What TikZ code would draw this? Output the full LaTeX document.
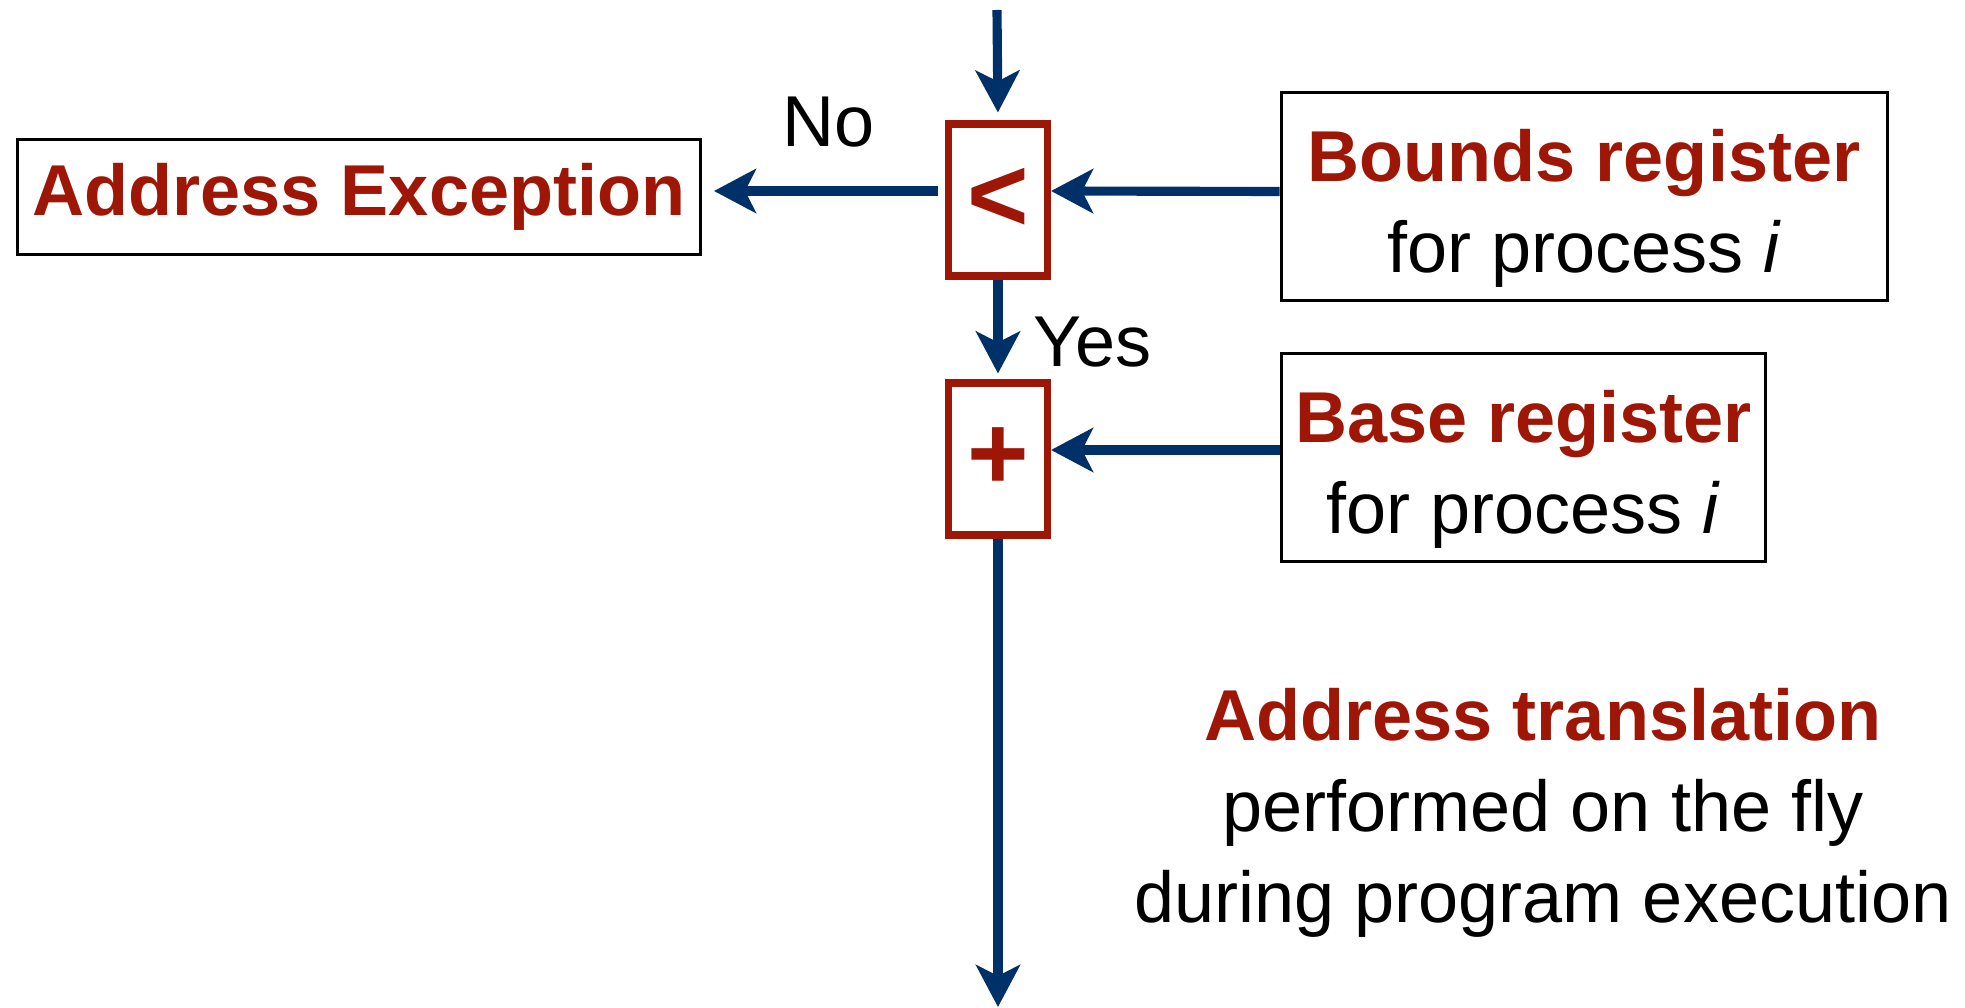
\documentclass[tikz,border=0pt]{standalone}
\usepackage{fontspec}
\setmainfont{Liberation Sans}
\usetikzlibrary{arrows.meta}

\definecolor{opred}{RGB}{158,22,6}
\definecolor{flowblue}{RGB}{0,48,104}

\tikzset{
    regbox/.style={draw=black, line width=0.85pt, align=center, inner sep=0pt, minimum height=2.08cm},
    opbox/.style={draw=opred, line width=2pt, text=opred, inner sep=0pt,
        minimum width=0.99cm, minimum height=1.52cm, font=\bfseries\fontsize{30pt}{30pt}\selectfont},
    flow/.style={draw=flowblue, line width=2.6pt, -{Stealth[length=0.42cm,width=0.44cm,inset=0.11cm]}},
}
\newcommand{\hl}[1]{\textbf{\textcolor{opred}{#1}}}
\newcommand{\lowstrut}{\rule{0pt}{0.76cm}}

\begin{document}
\begin{tikzpicture}[font=\fontsize{20.5pt}{25.9pt}\selectfont]
    \useasboundingbox (0,0) rectangle (19.65,10.07);

    \node[opbox] (cmp) at (9.98,8.07) {<};
    \node[opbox] (add) at (9.98,5.48) {+};

    \node[draw=black, line width=0.85pt, inner sep=0pt, minimum width=6.83cm, minimum height=1.15cm] (exc) at (3.59,8.10) {\hl{Address Exception}};
    \node[regbox, minimum width=6.06cm] (bounds) at (15.84,8.105) {\lowstrut\hl{Bounds register}\\ for process \textit{i}};
    \node[regbox, minimum width=4.84cm] (base) at (15.235,5.495) {\lowstrut\hl{Base register}\\ for process \textit{i}};

    \node[anchor=base] (no) at (8.285,8.60) {No};
    \node[anchor=base west, inner sep=0pt] (yes) at (10.33,6.40) {Yes};
    \node[anchor=north, align=center, inner sep=0pt] (note) at (15.43,3.19) {\hl{Address translation}\\ performed on the fly\\ during program execution};

    \coordinate (in) at (9.97,9.97);
    \coordinate (out) at (9.98,0);

    \draw[flow, shorten >=0.08cm] (in) -- (cmp.north);
    \draw[flow, shorten <=0.07cm, shorten >=0.12cm] ([yshift=0.9mm]cmp.west) -- ([yshift=0.9mm]cmp.west -| exc.east);
    \draw[flow] ([yshift=0.5mm]bounds.west) -- ([yshift=0.9mm]cmp.east);
    \draw[flow, shorten >=0.06cm] (cmp.south) -- (add.north);
    \draw[flow] ([yshift=0.75mm]base.west) -- ([yshift=0.9mm]add.east);
    \draw[flow] (add.south) -- (out);
\end{tikzpicture}
\end{document}
